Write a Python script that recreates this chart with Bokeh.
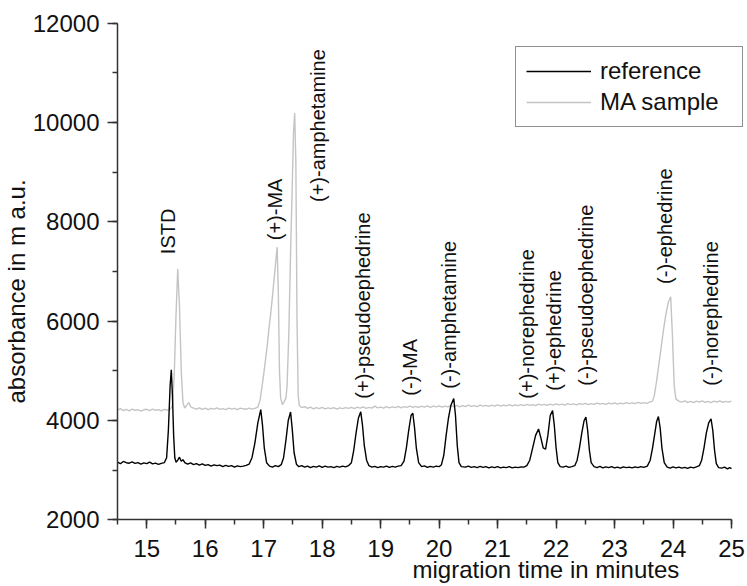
import math
from bokeh.plotting import figure
from bokeh.models import (SingleIntervalTicker, Legend, LegendItem, Label, LabelSet,
                          ColumnDataSource)
from bokeh.core.properties import value
from bokeh.embed import file_html
from bokeh.resources import INLINE

# ---------------- data ----------------
ref_time = [
    14.50, 14.55, 14.60, 14.65, 14.70, 14.75, 14.80, 14.85, 14.90, 14.95, 15.00, 15.05, 15.10, 15.15, 15.20, 15.25, 15.30,
    15.34, 15.37, 15.40, 15.42, 15.44, 15.46, 15.48, 15.50, 15.53, 15.56, 15.59, 15.62, 15.65,
    15.70, 15.75, 15.80, 15.85, 15.90, 15.95, 16.00, 16.05, 16.10, 16.15, 16.20, 16.25, 16.30, 16.35, 16.40, 16.45,
    16.50, 16.55, 16.60, 16.65, 16.70, 16.75,
    16.80, 16.85, 16.90, 16.95, 16.98, 17.01, 17.05, 17.10, 17.15, 17.20, 17.25, 17.30,
    17.34, 17.38, 17.42, 17.46, 17.49, 17.52, 17.56, 17.60, 17.65, 17.70, 17.75, 17.80, 17.85, 17.90, 17.95, 18.00,
    18.05, 18.10, 18.15, 18.20, 18.25, 18.30, 18.35, 18.40, 18.45,
    18.50, 18.54, 18.58, 18.62, 18.66, 18.69, 18.72, 18.76, 18.80, 18.85, 18.90, 18.95, 19.00, 19.05, 19.10, 19.15,
    19.20, 19.25, 19.30, 19.35,
    19.40, 19.44, 19.48, 19.52, 19.55, 19.58, 19.61, 19.65, 19.70, 19.75, 19.80, 19.85, 19.90, 19.95, 20.00, 20.04,
    20.08, 20.12, 20.16, 20.20, 20.25, 20.28, 20.31, 20.34, 20.38, 20.45, 20.50, 20.55, 20.60, 20.65, 20.70, 20.75,
    20.80, 20.85, 20.90, 20.95, 21.00, 21.05, 21.10, 21.15, 21.20, 21.25, 21.30, 21.35, 21.40, 21.45, 21.50,
    21.55, 21.60, 21.65, 21.70, 21.74, 21.78, 21.82, 21.86, 21.90, 21.94, 21.97, 22.00, 22.03, 22.07, 22.12, 22.17,
    22.22, 22.27, 22.32,
    22.36, 22.40, 22.44, 22.48, 22.51, 22.54, 22.57, 22.60, 22.65, 22.70, 22.75, 22.80, 22.85, 22.90, 22.95, 23.00,
    23.05, 23.10, 23.15, 23.20, 23.25, 23.30, 23.35, 23.40, 23.45, 23.50, 23.56,
    23.61, 23.65, 23.69, 23.72, 23.75, 23.78, 23.81, 23.85, 23.90, 23.95, 24.00, 24.05, 24.10, 24.15, 24.20, 24.25,
    24.30, 24.35, 24.40, 24.45,
    24.49, 24.53, 24.57, 24.61, 24.65, 24.68, 24.71, 24.74, 24.78, 24.83, 24.88, 24.93, 24.97, 25.00,
]
ref_abs = [
    3160, 3130, 3175, 3150, 3140, 3165, 3135, 3150, 3120, 3145, 3130, 3160, 3125, 3140, 3115, 3135, 3150,
    3250, 3800, 4700, 5020, 4500, 3700, 3250, 3160, 3200, 3260, 3180, 3210, 3150,
    3120, 3145, 3110, 3130, 3100, 3125, 3095, 3110, 3080, 3105, 3090, 3100, 3070, 3095, 3075, 3090,
    3060, 3085, 3070, 3080, 3095, 3120,
    3250, 3550, 3950, 4220, 3900, 3450, 3150, 3080, 3060, 3090, 3070, 3110,
    3250, 3600, 4000, 4170, 3800, 3350, 3120, 3070, 3090, 3060, 3080, 3050, 3075, 3060, 3085, 3055,
    3080, 3060, 3070, 3050, 3075, 3060, 3080, 3065, 3090,
    3150, 3400, 3750, 4050, 4175, 3900, 3500, 3200, 3090, 3060, 3075, 3050, 3070, 3060, 3080, 3055,
    3075, 3060, 3080, 3090,
    3180, 3450, 3800, 4100, 4150, 3850, 3450, 3150, 3070, 3085, 3055, 3075, 3060, 3080, 3070, 3110,
    3300, 3700, 4050, 4300, 4440, 4100, 3500, 3150, 3070, 3060, 3080, 3055, 3070, 3050, 3075, 3055,
    3070, 3045, 3065, 3050, 3070, 3045, 3060, 3050, 3070, 3045, 3060, 3050, 3065, 3060, 3090,
    3200, 3450, 3700, 3830, 3650, 3450, 3420, 3700, 4100, 4200, 3900, 3450, 3150, 3070, 3060, 3080,
    3055, 3070, 3090,
    3200, 3450, 3750, 4000, 4070, 3800, 3400, 3150, 3070, 3050, 3075, 3045, 3065, 3050, 3070, 3045,
    3060, 3040, 3065, 3050, 3060, 3045, 3065, 3050, 3070, 3055, 3080,
    3200, 3450, 3750, 3980, 4080, 3850, 3450, 3150, 3060, 3040, 3065, 3045, 3060, 3040, 3055, 3035,
    3060, 3045, 3065, 3090,
    3200, 3450, 3750, 3950, 4035, 3800, 3400, 3130, 3050, 3040, 3060, 3025, 3050, 3030,
]

ma_time = [
    14.50, 14.55, 14.60, 14.65, 14.70, 14.75, 14.80, 14.85, 14.90, 14.95, 15.00, 15.05, 15.10, 15.15, 15.20, 15.25,
    15.30, 15.35, 15.40,
    15.44, 15.47, 15.50, 15.53, 15.56, 15.59, 15.62, 15.65, 15.69, 15.72, 15.75, 15.80, 15.85, 15.90, 15.95, 16.00,
    16.05, 16.10, 16.15, 16.20, 16.25, 16.30, 16.35, 16.40, 16.45, 16.50, 16.55, 16.60, 16.65, 16.70, 16.75, 16.80,
    16.85, 16.90,
    16.94, 16.97, 17.00, 17.03, 17.06, 17.09, 17.12, 17.15, 17.18, 17.21, 17.23, 17.25, 17.27, 17.29, 17.32, 17.35,
    17.38, 17.40, 17.43, 17.46, 17.49, 17.51, 17.53, 17.55, 17.57, 17.59, 17.61, 17.65, 17.70, 17.75, 17.80, 17.85,
    17.90, 17.95, 18.00, 18.05, 18.10, 18.15, 18.20, 18.25, 18.30, 18.35, 18.40, 18.45, 18.50, 18.55, 18.60, 18.65,
    18.70, 18.75, 18.80, 18.85, 18.90, 18.95, 19.00, 19.05, 19.10, 19.15, 19.20, 19.25, 19.30, 19.35, 19.40, 19.45,
    19.50, 19.55, 19.60, 19.65, 19.70, 19.75, 19.80, 19.85, 19.90, 19.95, 20.00, 20.05, 20.10, 20.15, 20.20, 20.25,
    20.30, 20.35, 20.40, 20.45, 20.50, 20.55, 20.60, 20.65, 20.70, 20.75, 20.80, 20.85, 20.90, 20.95, 21.00, 21.05,
    21.10, 21.15, 21.20, 21.25, 21.30, 21.35, 21.40, 21.45, 21.50, 21.55, 21.60, 21.65, 21.70, 21.75, 21.80, 21.85,
    21.90, 21.95, 22.00, 22.05, 22.10, 22.15, 22.20, 22.25, 22.30, 22.35, 22.40, 22.45, 22.50, 22.55, 22.60, 22.65,
    22.70, 22.75, 22.80, 22.85, 22.90, 22.95, 23.00, 23.05, 23.10, 23.15, 23.20, 23.25, 23.30, 23.35, 23.40, 23.45,
    23.50, 23.55, 23.60, 23.65,
    23.68, 23.72, 23.76, 23.80, 23.84, 23.88, 23.92, 23.96, 23.99, 24.02, 24.05, 24.10, 24.15, 24.20, 24.25, 24.30,
    24.35, 24.40, 24.45, 24.50, 24.55, 24.60, 24.65, 24.70, 24.75, 24.80, 24.85, 24.90, 24.95, 25.00,
]
ma_abs = [
    4210, 4240, 4200, 4225, 4195, 4230, 4205, 4220, 4190, 4215, 4225, 4200, 4230, 4205, 4220, 4195,
    4225, 4210, 4230,
    4300, 4900, 6100, 7050, 6300, 5000, 4350, 4250, 4320, 4360, 4280, 4250, 4230, 4255, 4225, 4250,
    4220, 4245, 4230, 4255, 4225, 4240, 4220, 4250, 4230, 4245, 4220, 4250, 4235, 4225, 4250, 4230,
    4245, 4270,
    4420, 4670, 4930, 5210, 5500, 5850, 6150, 6500, 6870, 7250, 7490, 6600, 5000, 4450, 4320, 4380,
    4450, 4700, 5750, 7400, 8800, 9800, 10190, 9200, 6000, 4500, 4300, 4260, 4280, 4245, 4270, 4235,
    4260, 4240, 4265, 4235, 4255, 4240, 4260, 4230, 4255, 4240, 4260, 4245, 4265, 4240, 4270, 4250,
    4275, 4245, 4265, 4250, 4290, 4255, 4270, 4250, 4280, 4255, 4275, 4260, 4285, 4255, 4280, 4265,
    4290, 4265, 4285, 4260, 4290, 4270, 4295, 4265, 4290, 4275, 4295, 4270, 4290, 4275, 4300, 4280,
    4305, 4275, 4300, 4280, 4310, 4285, 4300, 4280, 4310, 4290, 4305, 4285, 4310, 4290, 4315, 4290,
    4310, 4295, 4320, 4295, 4315, 4300, 4320, 4300, 4325, 4305, 4320, 4300, 4330, 4310, 4325, 4305,
    4330, 4310, 4335, 4315, 4330, 4310, 4340, 4320, 4335, 4315, 4340, 4325, 4345, 4320, 4340, 4325,
    4350, 4330, 4345, 4325, 4350, 4335, 4355, 4330, 4350, 4335, 4360, 4340, 4355, 4340, 4365, 4345,
    4360, 4345, 4370, 4390,
    4500, 4800, 5150, 5500, 5850, 6150, 6380, 6490, 5700, 4700, 4430, 4390, 4370, 4395, 4365, 4385,
    4360, 4390, 4370, 4395, 4365, 4385, 4360, 4390, 4370, 4395, 4365, 4385, 4370, 4390,
]

peak_names = ["ISTD", "(+)-MA", "(+)-amphetamine", "(+)-pseudoephedrine", "(-)-MA",
              "(-)-amphetamine", "(+)-norephedrine", "(+)-ephedrine", "(-)-pseudoephedrine",
              "(-)-ephedrine", "(-)-norephedrine"]
peak_label_time = [15.36, 17.19, 17.93, 18.69, 19.50, 20.165, 21.51, 21.96, 22.52, 23.87, 24.645]
peak_label_abs = [7350, 7630, 8400, 4440, 4500, 4640, 4440, 4600, 4700, 6750, 4700]

series_names = ["reference", "MA sample"]
x_axis_bounds = (14.5, 25)
y_axis_bounds = (2000, 12000)
x_title = "migration time in minutes"
y_title = "absorbance in m a.u."

FONT = "Liberation Sans"
TXT = "#111111"
AX = "#333333"

W, H = 747, 586
# pixel placement of the plotting area inside the canvas
PX_LEFT, PX_RIGHT, PX_TOP, PX_BOTTOM = 117.0, 731.0, 22.7, 519.3
xs = (x_axis_bounds[1] - x_axis_bounds[0]) / (PX_RIGHT - PX_LEFT)
ys = (y_axis_bounds[1] - y_axis_bounds[0]) / (PX_BOTTOM - PX_TOP)
x_range = (x_axis_bounds[0] - PX_LEFT * xs, x_axis_bounds[1] + (W - PX_RIGHT) * xs)
y_range = (y_axis_bounds[0] - (H - PX_BOTTOM) * ys, y_axis_bounds[1] + PX_TOP * ys)

p = figure(width=W, height=H, x_range=x_range, y_range=y_range,
           output_backend="svg", toolbar_location=None, title=None,
           min_border_left=0, min_border_right=0, min_border_top=0, min_border_bottom=0)
p.background_fill_color = "white"
p.border_fill_color = "white"
p.outline_line_color = None
p.xgrid.visible = False
p.ygrid.visible = False

r_ma = p.line(ma_time, ma_abs, line_color="#c4c4c4", line_width=1.4)
r_ref = p.line(ref_time, ref_abs, line_color="#000000", line_width=1.4)

p.xaxis.ticker = SingleIntervalTicker(interval=1, num_minor_ticks=2)
p.yaxis.ticker = SingleIntervalTicker(interval=2000, num_minor_ticks=2)
p.xaxis.fixed_location = y_axis_bounds[0]
p.yaxis.fixed_location = x_axis_bounds[0]
p.xaxis.bounds = x_axis_bounds
p.yaxis.bounds = y_axis_bounds
for ax, tick_out in ((p.xaxis, 9), (p.yaxis, 10)):
    ax.axis_line_color = AX
    ax.axis_line_width = 1.5
    ax.major_tick_line_color = AX
    ax.major_tick_line_width = 1.5
    ax.minor_tick_line_color = AX
    ax.minor_tick_line_width = 1.5
    ax.major_tick_in = 0
    ax.major_tick_out = tick_out
    ax.minor_tick_in = 0
    ax.minor_tick_out = 5
    ax.major_label_text_font = FONT
    ax.major_label_text_font_size = "24px"
    ax.major_label_text_color = TXT
p.xaxis.major_label_standoff = 11
p.yaxis.major_label_standoff = 8

# axis titles (placed where the reference shows them)
p.add_layout(Label(x=14.5 + (412 - PX_LEFT) * xs, y=2000 - (569 - PX_BOTTOM) * ys,
                   text=x_title, text_font=FONT, text_font_size="24px", text_color=TXT,
                   text_align="left", text_baseline="alphabetic"))
p.add_layout(Label(x=14.5 - (PX_LEFT - 16) * xs, y=2000 + (PX_BOTTOM - 403) * ys,
                   text=y_title, angle=math.pi / 2, text_font=FONT, text_font_size="24px",
                   text_color=TXT, text_align="left", text_baseline="alphabetic"))

# peak annotations
src = ColumnDataSource(dict(x=peak_label_time, y=peak_label_abs, t=peak_names))
p.add_layout(LabelSet(x="x", y="y", text="t", source=src, angle=math.pi / 2,
                      text_font=value(FONT), text_font_size=value("20px"), text_color=TXT,
                      text_align="left", text_baseline="middle"))

legend = Legend(items=[LegendItem(label=series_names[0], renderers=[r_ref]),
                       LegendItem(label=series_names[1], renderers=[r_ma])],
                location=(515, H - 50 - 77), padding=10, spacing=3, margin=0,
                glyph_width=65, glyph_height=24, label_height=24, label_width=132,
                label_standoff=9,
                label_text_font=FONT, label_text_font_size="24px", label_text_color=TXT,
                border_line_color="#222222", border_line_width=1.5,
                background_fill_color="white", background_fill_alpha=1.0)
p.add_layout(legend)

open("out.html", "w").write(file_html(p, INLINE))
